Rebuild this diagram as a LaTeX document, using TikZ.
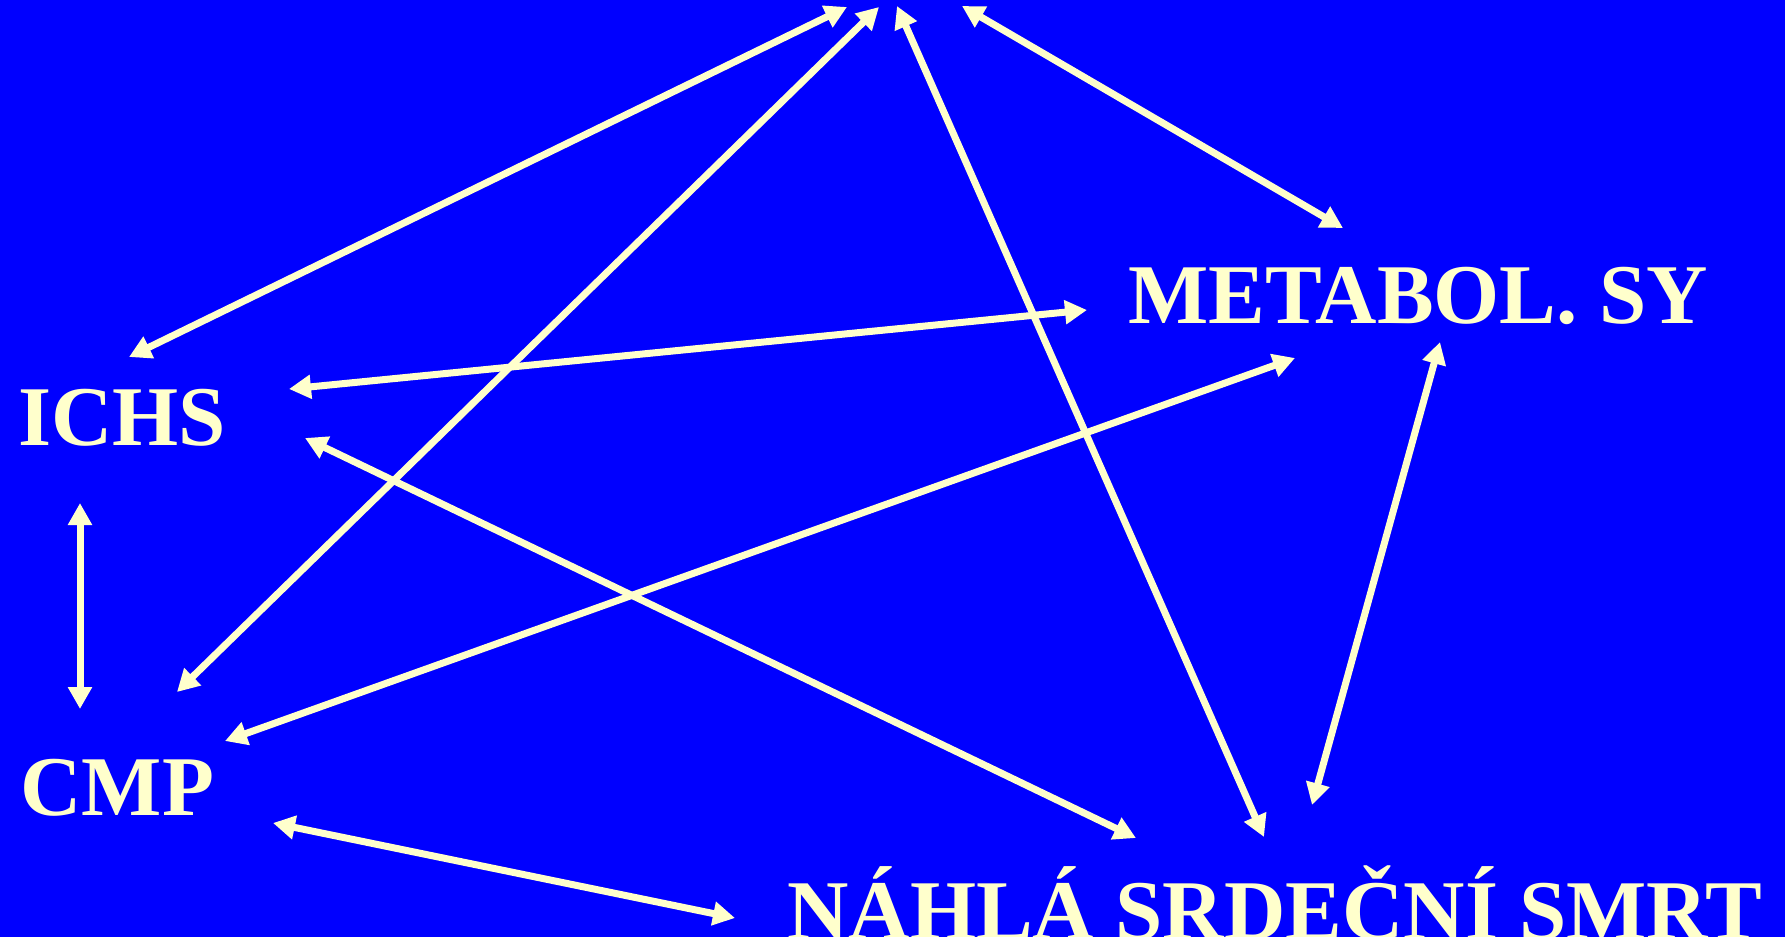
\documentclass[tikz,border=0pt]{standalone}
\usepackage{fontspec}
\setmainfont{Liberation Serif}
\usepackage{xcolor}
\usepackage{tikz}
\usetikzlibrary{arrows.meta, positioning}
\definecolor{slideblue}{RGB}{0, 0, 255}
\definecolor{paleyellow}{RGB}{255, 255, 204}

\begin{document}
\begin{tikzpicture}[
    x=0.5pt, y=-0.5pt,
    every node/.style={font=\fontsize{42.5pt}{50pt}\selectfont\bfseries, text=paleyellow, inner sep=0pt},
    lbl/.style={anchor=base west},
    arr/.style={{Triangle[length=11pt, width=11.5pt]}-{Triangle[length=11pt, width=11.5pt]}, line width=3.5pt, draw=paleyellow}
]

% Background
\fill[slideblue] (0,0) rectangle (1785,937);
\useasboundingbox (0,0) rectangle (1785,937);

% Labels
\node[lbl] (ichs) at (18,445) {ICHS};
\node[lbl] (cmp) at (20,815) {CMP};
\node[lbl] (metabol) at (1128,323) {METABOL. SY};
\node[lbl] (nss) at (787,939) {NÁHLÁ SRDEČNÍ SMRT};

% Arrow ends
\coordinate (top_a) at (847,7);
\coordinate (top_b) at (879,7);
\coordinate (top_c) at (897,6);
\coordinate (top_d) at (962,6);
\coordinate (ichs_top) at (129,357);
\coordinate (ichs_met) at (289,389);
\coordinate (ichs_nss) at (305,438);
\coordinate (ichs_cmp) at (80,503);
\coordinate (cmp_ichs) at (80,709);
\coordinate (cmp_top) at (177,692);
\coordinate (cmp_met) at (225,741);
\coordinate (cmp_nss) at (273,823);
\coordinate (met_top) at (1343,228);
\coordinate (met_ichs) at (1087,310);
\coordinate (met_cmp) at (1295,358);
\coordinate (met_nss) at (1440,342);
\coordinate (nss_top) at (1264,837);
\coordinate (nss_ichs) at (1136,838);
\coordinate (nss_met) at (1312,805);
\coordinate (nss_cmp) at (735,918);

% Connectors
\draw[arr] (ichs_top) -- (top_a);
\draw[arr] (cmp_top) -- (top_b);
\draw[arr] (nss_top) -- (top_c);
\draw[arr] (met_top) -- (top_d);
\draw[arr] (ichs_met) -- (met_ichs);
\draw[arr] (cmp_met) -- (met_cmp);
\draw[arr] (ichs_nss) -- (nss_ichs);
\draw[arr] (met_nss) -- (nss_met);
\draw[arr] (ichs_cmp) -- (cmp_ichs);
\draw[arr] (cmp_nss) -- (nss_cmp);

\end{tikzpicture}
\end{document}
